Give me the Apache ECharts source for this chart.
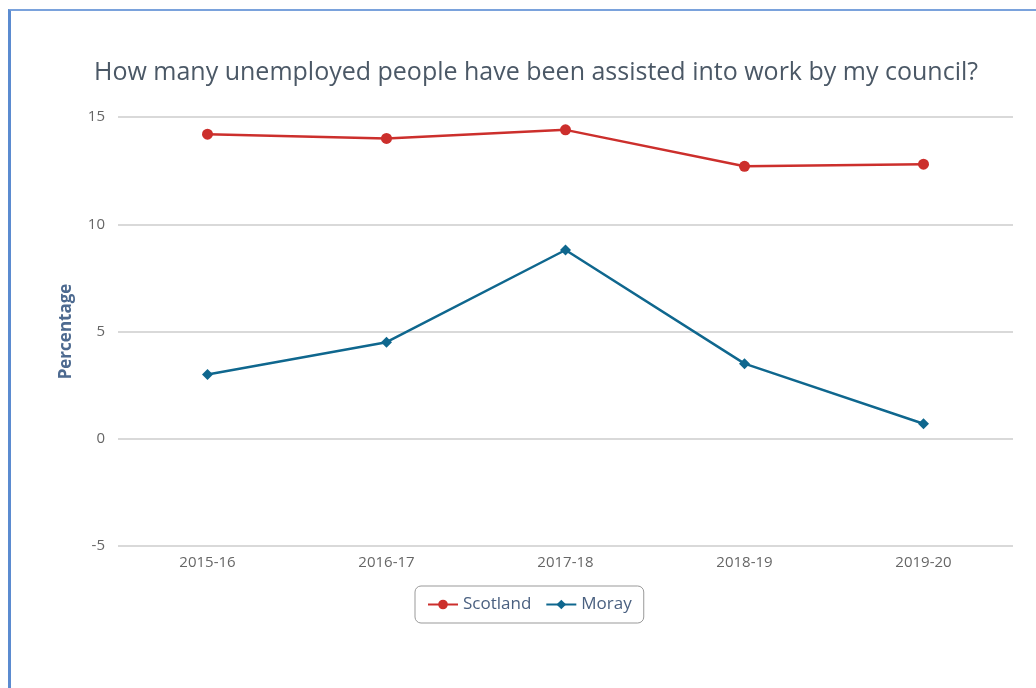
<!DOCTYPE html>
<html>
<head>
<meta charset="utf-8">
<script src="https://cdn.jsdelivr.net/npm/echarts@6/dist/echarts.min.js"></script>
<style>
  html, body { margin: 0; padding: 0; background: #fff; }
  #frame {
    position: absolute; left: 8px; top: 9px; width: 1100px; height: 760px;
    border-left: 3px solid #5b8bd0; border-top: 2px solid #7aa2dc;
  }
  #chart { position: absolute; left: 0; top: 0; width: 1036px; height: 688px; }
</style>
</head>
<body>
<div id="frame"></div>
<div id="chart"></div>
<script>
// 年度
const years = ['2015-16', '2016-17', '2017-18', '2018-19', '2019-20']
// 百分比
const scotland = [14.2, 14.0, 14.4, 12.7, 12.8]
const moray = [3.0, 4.5, 8.8, 3.5, 0.7]

const chart = echarts.init(document.getElementById('chart'))

const option = {
  title: {
    text: 'How many unemployed people have been assisted into work by my council?',
    left: 531,
    textAlign: 'center',
    top: 55,
    textStyle: {
      fontFamily: 'Open Sans',
      fontSize: 25,
      fontWeight: 'normal',
      color: '#4b5866'
    }
  },
  legend: {
    data: ['Scotland', 'Moray'],
    top: 586,
    left: 415,
    borderColor: '#999',
    borderWidth: 1,
    borderRadius: 6,
    padding: [10, 12, 10, 12],
    itemGap: 14,
    itemWidth: 30,
    itemHeight: 12,
    textStyle: {
      fontFamily: 'Open Sans',
      fontSize: 17,
      color: '#4a6080'
    }
  },
  grid: {
    left: 118,
    right: 23,
    top: 117,
    bottom: 142
  },
  xAxis: {
    type: 'category',
    data: years,
    boundaryGap: true,
    axisLine: { show: false },
    axisTick: { show: false },
    axisLabel: {
      margin: 9,
      fontFamily: 'Open Sans',
      fontSize: 15,
      color: '#666'
    }
  },
  yAxis: {
    type: 'value',
    min: -5,
    max: 15,
    interval: 5,
    name: 'Percentage',
    nameLocation: 'middle',
    nameGap: 43,
    nameTextStyle: {
      fontFamily: 'Open Sans',
      fontSize: 17,
      fontWeight: 'bold',
      color: '#4d6a90'
    },
    axisLine: { show: false },
    axisTick: { show: false },
    axisLabel: {
      margin: 13,
      fontFamily: 'Open Sans',
      fontSize: 15,
      color: '#666'
    },
    splitLine: {
      lineStyle: { color: '#cccccc', width: 1.5 }
    }
  },
  series: [
    {
      name: 'Scotland',
      type: 'line',
      data: scotland,
      symbol: 'circle',
      symbolSize: 11,
      itemStyle: { color: '#cc2f2c' },
      lineStyle: { width: 2.5, color: '#cc2f2c' }
    },
    {
      name: 'Moray',
      type: 'line',
      data: moray,
      symbol: 'diamond',
      symbolSize: 11,
      itemStyle: { color: '#0f678e' },
      lineStyle: { width: 2.5, color: '#0f678e' }
    }
  ],
  animation: false
}

chart.setOption(option)
</script>
</body>
</html>
